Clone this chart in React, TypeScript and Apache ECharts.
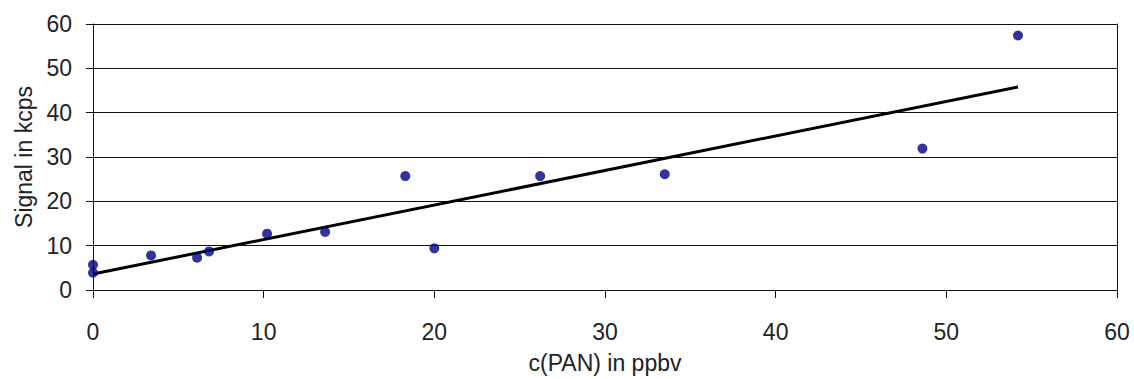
import React, { useEffect, useRef } from "react";
import * as echarts from "echarts";

const concX = [0, 0, 3.4, 6.1, 6.8, 10.2, 13.6, 18.3, 20.0, 26.2, 33.5, 48.6, 54.2];
const signalY = [5.7, 3.9, 7.8, 7.3, 8.7, 12.7, 13.1, 25.7, 9.4, 25.7, 26.1, 31.9, 57.4];
const trendX = [0, 54.2];
const trendY = [3.6, 45.8];

const FONT = "'Liberation Sans', Arial, sans-serif";

export default function App() {
  const ref = useRef<HTMLDivElement>(null);
  useEffect(() => {
    if (!ref.current) return;
    const chart = echarts.init(ref.current, null, { renderer: "svg" });
    const txt = { fontFamily: FONT, fontSize: 23, color: "#222" };
    chart.setOption({
      animation: false,
      backgroundColor: "#fff",
      grid: { left: 93, right: 17, top: 24, bottom: 82, containLabel: false },
      xAxis: {
        type: "value",
        min: 0,
        max: 60,
        interval: 10,
        name: "c(PAN) in ppbv",
        nameLocation: "middle",
        nameGap: 61,
        nameTextStyle: { ...txt, verticalAlign: "top" },
        axisLine: { show: true, onZero: false, lineStyle: { color: "#111", width: 1 } },
        axisTick: { show: true, inside: false, length: 8, lineStyle: { color: "#111" } },
        axisLabel: { ...txt, margin: 30 },
        splitLine: { show: false },
      },
      yAxis: [
        {
          type: "value",
          min: 0,
          max: 60,
          interval: 10,
          name: "Signal in kcps",
          nameLocation: "middle",
          nameGap: 58,
          nameTextStyle: { ...txt },
          axisLine: { show: true, onZero: false, lineStyle: { color: "#111", width: 1 } },
          axisTick: { show: true, inside: false, length: 7, lineStyle: { color: "#111" } },
          axisLabel: { ...txt, margin: 21 },
          splitLine: { show: true, lineStyle: { color: "#111", width: 1 } },
        },
        {
          type: "value",
          min: 0,
          max: 60,
          interval: 10,
          position: "right",
          axisLine: { show: true, onZero: false, lineStyle: { color: "#111", width: 1 } },
          axisTick: { show: false },
          axisLabel: { show: false },
          splitLine: { show: false },
        },
      ],
      series: [
        {
          type: "line",
          data: trendX.map((x, i) => [x, trendY[i]]),
          showSymbol: false,
          symbol: "none",
          lineStyle: { color: "#000", width: 3 },
          z: 2,
        },
        {
          type: "scatter",
          data: concX.map((x, i) => [x, signalY[i]]),
          symbol: "circle",
          symbolSize: 10,
          itemStyle: { color: "#000080" },
          z: 3,
        },
      ],
    });
    return () => chart.dispose();
  }, []);
  return (
    <div
      ref={ref}
      style={{ position: "absolute", left: 0, top: 0, width: 1134, height: 379, background: "#fff" }}
    />
  );
}
